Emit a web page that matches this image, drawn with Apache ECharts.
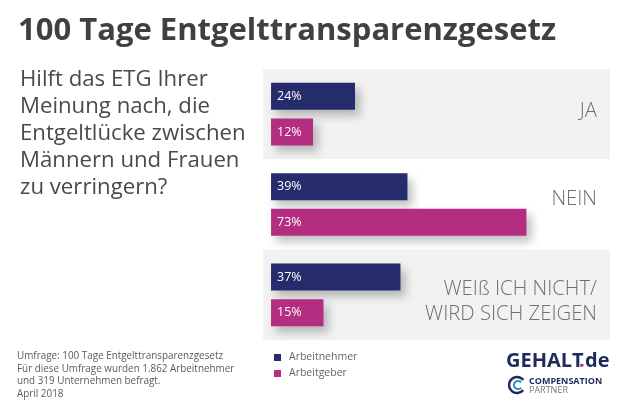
<!DOCTYPE html>
<html>
<head>
    <meta charset="utf-8">
    <script src="https://cdn.jsdelivr.net/npm/echarts@6/dist/echarts.min.js"></script>
    <style>
        html, body { margin: 0; padding: 0; background: #fff; }
    </style>
</head>
<body>
<div id="main" style="width: 634px;height:412px;"></div>
<script type="text/javascript">
    var categories = ['JA', 'NEIN', 'WEIß ICH NICHT/\nWIRD SICH ZEIGEN'];
    var arbeitnehmer = [24, 39, 37];
    var arbeitgeber = [12, 73, 15];
    var titleText = '100 Tage Entgelttransparenzgesetz';
    var questionLines = ['Hilft das ETG Ihrer', 'Meinung nach, die', 'Entgeltlücke zwischen', 'Männern und Frauen', 'zu verringern?'];
    var noteLines = ['Umfrage: 100 Tage Entgelttransparenzgesetz', 'Für diese Umfrage wurden 1.862 Arbeitnehmer', 'und 319 Unternehmen befragt.', 'April 2018'];

    var font = '"Open Sans", "Noto Sans", sans-serif';
    var myChart = echarts.init(document.getElementById('main'), null, {renderer: 'canvas'});

    function barSeries(name, data, color) {
        return {
            name: name,
            type: 'bar',
            data: data,
            barWidth: 27,
            barGap: '32%',
            silent: true,
            itemStyle: {
                color: color,
                shadowColor: 'rgba(0,0,0,0.25)',
                shadowBlur: 10,
                shadowOffsetX: 5,
                shadowOffsetY: 6
            },
            label: {
                show: true,
                position: 'insideLeft',
                distance: 6,
                color: '#fff',
                fontFamily: font,
                fontSize: 12.5,
                formatter: '{c}%'
            }
        };
    }

    // Kategorie-Texte sitzen nicht genau auf der Bandmitte, daher als graphic
    function categoryLabel(text, top) {
        return {
            type: 'text',
            right: 37,
            top: top,
            z: 100,
            style: {text: text, fill: '#707070', font: '300 20.3px ' + font}
        };
    }

    var lastCategory = categories[2].split('\n');

    var option = {
        animation: false,
        backgroundColor: '#fff',
        textStyle: {fontFamily: font},
        grid: {left: 263, top: 69, width: 347, height: 271},
        legend: {
            left: 269,
            top: 347,
            orient: 'vertical',
            icon: 'rect',
            itemWidth: 7,
            itemHeight: 7,
            itemGap: 5,
            textStyle: {color: '#666', fontFamily: font, fontSize: 10.5, padding: [0, 0, 0, 3]},
            data: ['Arbeitnehmer', 'Arbeitgeber']
        },
        xAxis: {
            type: 'value',
            min: -2.3,
            max: 96.9,
            show: false
        },
        yAxis: {
            type: 'category',
            inverse: true,
            data: categories,
            axisLine: {show: false},
            axisTick: {show: false},
            axisLabel: {show: false},
            splitLine: {show: false},
            splitArea: {show: true, areaStyle: {color: ['#f2f2f2', '#ffffff']}}
        },
        series: [
            barSeries('Arbeitnehmer', arbeitnehmer, '#262b6b'),
            barSeries('Arbeitgeber', arbeitgeber, '#b32d80')
        ],
        graphic: [
            {type: 'text', left: 18, top: 16, style: {text: titleText, fill: '#404040', font: 'bold 31px ' + font}},
            {type: 'text', left: 20, top: 66, style: {text: questionLines.join('\n'), fill: '#4a4a4a', font: '22.2px ' + font, lineHeight: 27}},
            {type: 'text', left: 17, top: 350, style: {text: noteLines.join('\n'), fill: '#5a5a5a', font: '9.9px ' + font, lineHeight: 12.6}},
            categoryLabel(categories[0], 101),
            categoryLabel(categories[1], 189),
            categoryLabel(lastCategory[0], 279),
            categoryLabel(lastCategory[1], 304),
            // Logo
            {type: 'text', left: 506, top: 351, style: {text: 'GEHALT', fill: '#1f2a5a', font: 'bold 20px ' + font}},
            {type: 'text', left: 579, top: 351, z: 101, style: {text: '.', fill: '#b32d80', font: 'bold 20px ' + font}},
            {type: 'text', left: 585, top: 351, style: {text: 'de', fill: '#1f2a5a', font: 'bold 20px ' + font}},
            {type: 'arc', shape: {cx: 517, cy: 385, r: 8, startAngle: 0.7, endAngle: 5.6}, style: {stroke: '#1f2a5a', fill: null, lineWidth: 2.5}},
            {type: 'arc', shape: {cx: 518, cy: 385, r: 4, startAngle: 0.7, endAngle: 5.6}, style: {stroke: '#1e8fc4', fill: null, lineWidth: 2}},
            {type: 'text', left: 529, top: 377, style: {text: 'COMPENSATION', fill: '#1f2a5a', font: 'bold 9px ' + font}},
            {type: 'text', left: 529, top: 386, style: {text: 'PARTNER', fill: '#777', font: '9px ' + font}}
        ]
    };
    myChart.setOption(option);
</script>
</body>
</html>
